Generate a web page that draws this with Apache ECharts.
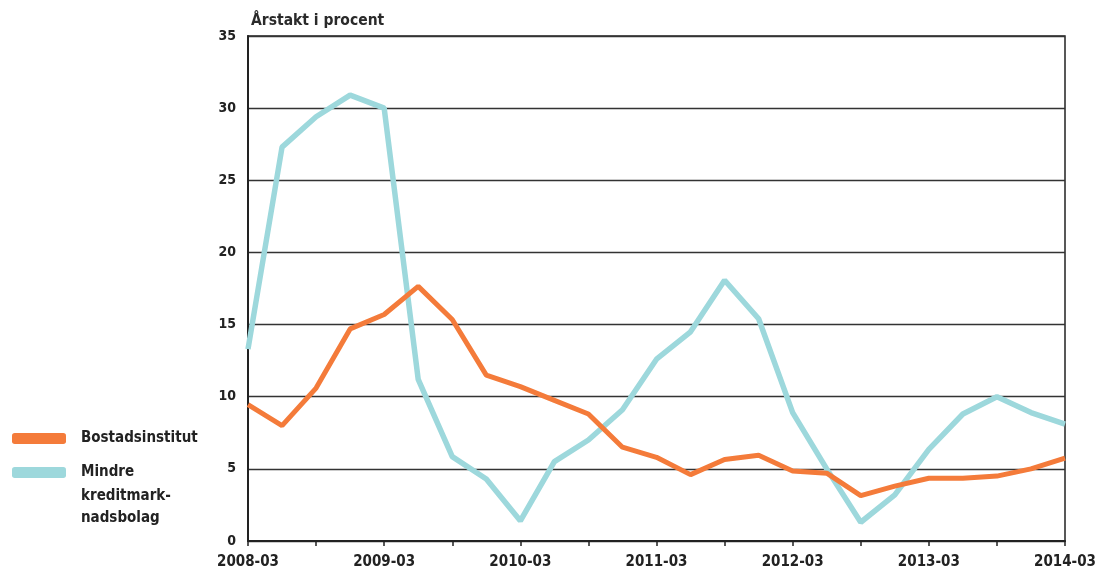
<!DOCTYPE html>
<html>
<head>
<meta charset="utf-8">
<script src="https://cdn.jsdelivr.net/npm/echarts@6/dist/echarts.min.js"></script>
<style>
  html, body { margin: 0; padding: 0; background: #fff; }
  #chart { width: 1104px; height: 579px; }
</style>
</head>
<body>
<div id="chart"></div>
<script>
// kvartal, 2008-03 .. 2014-03
var quarters = [];
for (var y = 2008; y <= 2014; y++) {
  ['03', '06', '09', '12'].forEach(function (m) {
    if (y === 2014 && m !== '03') return;
    quarters.push(y + '-' + m);
  });
}

// Bostadsinstitut
var bostad = [9.45, 8.0, 10.6, 14.7, 15.7, 17.65, 15.35, 11.5, 10.7, 9.75, 8.8, 6.5,
  5.8, 4.6, 5.65, 5.95, 4.85, 4.7, 3.15, 3.8, 4.35, 4.35, 4.5, 5.0, 5.75];

// Mindre kreditmarknadsbolag
var mindre = [13.3, 27.3, 29.4, 30.9, 30.0, 11.2, 5.85, 4.3, 1.4, 5.5, 7.0, 9.1,
  12.6, 14.5, 18.07, 15.4, 8.9, 5.0, 1.3, 3.2, 6.35, 8.8, 10.0, 8.9, 8.1];

var font = '"DejaVu Sans Condensed", "DejaVu Sans", sans-serif';
var orange = '#f47b3a';
var teal = '#9dd8dc';

var chart = echarts.init(document.getElementById('chart'));
chart.setOption({
  animation: false,
  textStyle: { fontFamily: font },
  title: {
    text: 'Årstakt i procent',
    left: 246, top: 8,
    textStyle: { fontFamily: font, fontSize: 15.5, fontWeight: 'bold', color: '#2a2a2a' }
  },
  grid: {
    left: 248, right: 39, top: 36, bottom: 38,
    show: true, borderColor: '#222', borderWidth: 1.5, backgroundColor: 'transparent'
  },
  legend: {
    orient: 'vertical',
    left: 7, top: 426,
    itemWidth: 54, itemHeight: 11, itemGap: 19,
    icon: 'roundRect',
    formatter: function (name) {
      return name === 'Mindre kreditmarknadsbolag' ? 'Mindre' : name;
    },
    textStyle: { fontFamily: font, fontSize: 15, fontWeight: 'bold', color: '#222', padding: [0, 0, 0, 10] }
  },
  graphic: [{
    type: 'text', left: 81, top: 485,
    style: { text: 'kreditmark-\nnadsbolag', font: 'bold 15px ' + font, fill: '#222', lineHeight: 22 }
  }],
  xAxis: {
    type: 'category',
    data: quarters,
    boundaryGap: false,
    axisLine: { lineStyle: { color: '#222', width: 2 } },
    axisTick: { interval: 1, length: 5, lineStyle: { color: '#222', width: 1.5 } },
    axisLabel: {
      interval: 3, margin: 14, fontSize: 15, fontWeight: 'bold', color: '#222', fontFamily: font
    },
    splitLine: { show: false }
  },
  yAxis: {
    type: 'value',
    min: 0, max: 35, interval: 5,
    axisLine: { show: true, lineStyle: { color: '#222', width: 2 } },
    axisTick: { show: false },
    axisLabel: { margin: 12, fontSize: 14, fontWeight: 'bold', color: '#222', fontFamily: font },
    splitLine: { lineStyle: { color: '#333', width: 1.3 } }
  },
  series: [{
    name: 'Bostadsinstitut',
    type: 'line',
    data: bostad,
    symbol: 'none',
    z: 3,
    itemStyle: { color: orange },
    lineStyle: { color: orange, width: 5 }
  }, {
    name: 'Mindre kreditmarknadsbolag',
    type: 'line',
    data: mindre,
    symbol: 'none',
    z: 2,
    itemStyle: { color: teal },
    lineStyle: { color: teal, width: 5.5 }
  }]
});
</script>
</body>
</html>
